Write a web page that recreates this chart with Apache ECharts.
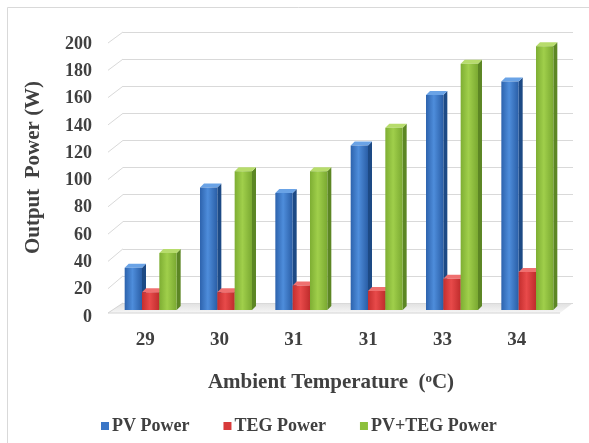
<!DOCTYPE html>
<html>
<head>
<meta charset="utf-8">
<script src="https://cdn.jsdelivr.net/npm/echarts@6/dist/echarts.min.js"></script>
<style>html,body{margin:0;padding:0;background:#fff;}#c{width:589px;height:443px;}</style>
</head>
<body>
<div id="c"></div>
<script>
const categories = ['29', '30', '31', '31', '33', '34'];
const seriesNames = ['PV Power', 'TEG Power', 'PV+TEG Power'];
const pvPower = [31, 90, 86, 121, 158, 168];
const tegPower = [13, 13, 18, 14, 23, 28];
const pvTegPower = [42, 102, 102, 134, 181, 194];
const yMin = 0, yMax = 200, yInterval = 20;

const FONT = 'Liberation Serif';
const TXT = '#404040';
const palettes = [
  {base: '#3a76c6', l: '#2d63ad', m: '#4e8ddb', r: '#2a5ea6', side: '#1d4a85', top: '#6aa3e6'},
  {base: '#d83a3a', l: '#c42e2e', m: '#e84a4a', r: '#bf2c2c', side: '#8e1e1e', top: '#ef7070'},
  {base: '#8dc03c', l: '#7eae33', m: '#a0cf4b', r: '#7aa931', side: '#5c8624', top: '#b7dc6c'}
];

function render3D(k) {
  const p = palettes[k];
  return function (params, api) {
    const i = api.value(0), v = api.value(1);
    const top = api.coord([i, v]);
    const base = api.coord([i, 0]);
    const band = api.size([1, 0])[0];
    const bw = band * 0.23;
    const d = 4;
    const x0 = top[0] + (k - 1.5) * bw;
    const x1 = x0 + bw;
    const yt = top[1], yb = base[1];
    return {
      type: 'group',
      children: [
        {type: 'polygon', shape: {points: [[x1, yt], [x1 + d, yt - d], [x1 + d, yb - d], [x1, yb]]},
         style: {fill: p.side}},
        {type: 'polygon', shape: {points: [[x0, yt], [x0 + d, yt - d], [x1 + d, yt - d], [x1, yt]]},
         style: {fill: p.top}},
        {type: 'rect', shape: {x: x0, y: yt, width: bw, height: yb - yt},
         style: {fill: new echarts.graphic.LinearGradient(0, 0, 1, 0, [
           {offset: 0, color: p.l}, {offset: 0.45, color: p.m}, {offset: 1, color: p.r}])}}
      ]
    };
  };
}

const G = {
  back: {left: 123, right: 16, top: 32, bottom: 140},
  label: {left: 108, right: 35, top: 44, bottom: 126},
  bars: {left: 113, right: 24, top: 38, bottom: 133}
};

const chart = echarts.init(document.getElementById('c'), null, {renderer: 'canvas'});
const allSeries = [pvPower, tegPower, pvTegPower];
chart.setOption({
  animation: false,
  backgroundColor: '#ffffff',
  grid: [G.back, G.label, G.bars],
  xAxis: [
    {gridIndex: 0, type: 'category', data: categories, show: false},
    {gridIndex: 1, type: 'category', data: categories,
     axisLine: {show: false}, axisTick: {show: false},
     axisLabel: {margin: 14, fontFamily: FONT, fontWeight: 'bold', fontSize: 19, color: TXT},
     name: 'Ambient Temperature  ({s|o}C)', nameLocation: 'middle', nameGap: 55,
     nameTextStyle: {fontFamily: FONT, fontWeight: 'bold', fontSize: 21, color: TXT,
       rich: {s: {fontFamily: FONT, fontWeight: 'bold', fontSize: 13, color: TXT, verticalAlign: 'top', padding: [0, 0, 8, 0]}}}},
    {gridIndex: 2, type: 'category', data: categories, show: false}
  ],
  yAxis: [
    {gridIndex: 0, type: 'value', min: yMin, max: yMax, interval: yInterval,
     axisLabel: {show: false}, axisLine: {show: false}, axisTick: {show: false},
     splitLine: {show: true, lineStyle: {color: '#d9d9d9', width: 1}},
     name: 'Output  Power (W)', nameLocation: 'middle', nameGap: 79,
     nameTextStyle: {fontFamily: FONT, fontWeight: 'bold', fontSize: 21, color: TXT}},
    {gridIndex: 1, type: 'value', min: yMin, max: yMax, interval: yInterval,
     axisLine: {show: false}, axisTick: {show: false}, splitLine: {show: false},
     axisLabel: {margin: 16, fontFamily: FONT, fontWeight: 'bold', fontSize: 18, color: TXT}},
    {gridIndex: 2, type: 'value', min: yMin, max: yMax, show: false}
  ],
  legend: {
    data: seriesNames, left: 96, top: 412, icon: 'rect', itemWidth: 8, itemHeight: 8, itemGap: 34,
    textStyle: {fontFamily: FONT, fontWeight: 'bold', fontSize: 18, color: TXT, padding: [0, 0, 0, -2]}
  },
  series: allSeries.map((arr, k) => ({
    name: seriesNames[k], type: 'custom', xAxisIndex: 2, yAxisIndex: 2,
    itemStyle: {color: palettes[k].base},
    renderItem: render3D(k),
    encode: {x: 0, y: 1},
    data: arr.map((v, i) => [i, v])
  }))
});

// decorative 3D frame: side-wall ticks and floor, positioned via the axes
const ticks = [];
for (let v = yMin; v <= yMax; v += yInterval) ticks.push(v);
const backY = v => chart.convertToPixel({yAxisIndex: 0}, v);
const frontY = v => chart.convertToPixel({yAxisIndex: 1}, v);
const barY = v => chart.convertToPixel({yAxisIndex: 2}, v);
const bl = G.back.left, br = 589 - G.back.right;
const fl = G.label.left, fr = 560;
const graphics = [];
ticks.forEach(v => {
  if (v === yMin) return;
  graphics.push({type: 'line', silent: true, z: -1,
    shape: {x1: fl, y1: frontY(v) - 1, x2: bl, y2: backY(v)},
    style: {stroke: '#d9d9d9', lineWidth: 1}});
});
const yb0 = backY(0), yf0 = barY(0) + 3;
graphics.push({type: 'polygon', silent: true, z: -2,
  shape: {points: [[bl, yb0], [br, yb0], [fr, yf0], [fl, yf0]]},
  style: {fill: new echarts.graphic.LinearGradient(0, 0, 0, 1, [
    {offset: 0, color: '#e0e0e0'}, {offset: 1, color: '#f6f6f6'}])}});
graphics.push({type: 'line', silent: true, z: -1,
  shape: {x1: fl, y1: yf0, x2: fr, y2: yf0}, style: {stroke: '#d4d4d4', lineWidth: 1}});
graphics.push({type: 'line', silent: true, z: -1,
  shape: {x1: fl, y1: yf0, x2: bl, y2: yb0}, style: {stroke: '#d4d4d4', lineWidth: 1}});
graphics.push({type: 'rect', silent: true, z: -3,
  shape: {x: 7.5, y: 7.5, width: 600, height: 460},
  style: {fill: null, stroke: '#d9d9d9', lineWidth: 1}});
chart.setOption({graphic: graphics});
</script>
</body>
</html>
